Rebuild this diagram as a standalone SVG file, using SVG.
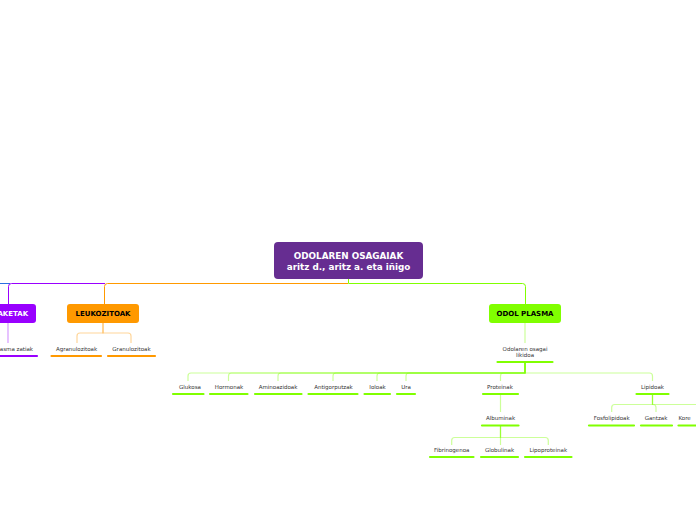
<svg xmlns="http://www.w3.org/2000/svg" width="696" height="520" viewBox="0 0 696 520">
<style>
.main{fill:none;stroke-width:1}
.sub{fill:none;stroke-width:1.2;stroke-opacity:0.4}
.g{stroke:#80FF00}
.o{stroke:#FF9900}
.p{stroke:#9900FF}
.ul{fill:none;stroke-width:2.2;stroke-linecap:round}
.nt{font-family:"DejaVu Sans",Verdana,sans-serif;font-weight:bold;font-size:7px;fill:#000;text-anchor:middle}
.rt{font-family:"DejaVu Sans",Verdana,sans-serif;font-weight:bold;font-size:8.8px;fill:#fff;text-anchor:middle}
.st{font-family:"DejaVu Sans",Verdana,sans-serif;font-size:5.5px;fill:#333;text-anchor:middle}
</style>
<rect width="696" height="520" fill="#fff"/>
<g id="connectors">
<path class="main" stroke="#2B6FE0" d="M10,283.5H-60"/>
<path class="main p" d="M105,283.5H11.5Q8.5,283.5 8.5,286.5V304"/>
<path class="main o" d="M348,283.5H107.5Q104.5,283.5 104.5,286.5V304"/>
<path class="main g" d="M348.5,279V283.5H522.5Q525.5,283.5 525.5,286.5V304"/>
<path class="sub p" d="M8,323V343"/>
<path class="sub o" d="M103,323V333H80Q77,333 77,336V343"/>
<path class="sub o" d="M103,323V333H128Q131,333 131,336V343"/>
<path class="sub g" d="M525,323V343"/>
<path class="sub g" d="M525,362V373H191Q188,373 188,376V381"/>
<path class="sub g" d="M525,362V373H231.5Q228.5,373 228.5,376V381"/>
<path class="sub g" d="M525,362V373H281Q278,373 278,376V381"/>
<path class="sub g" d="M525,362V373H336Q333,373 333,376V381"/>
<path class="sub g" d="M525,362V373H380Q377,373 377,376V381"/>
<path class="sub g" d="M525,362V373H409Q406,373 406,376V381"/>
<path class="sub g" d="M525,362V373H503.5Q500.5,373 500.5,376V381"/>
<path class="sub g" d="M525,362V373H649.5Q652.5,373 652.5,376V381"/>
<path class="sub g" d="M500.5,395V412"/>
<path class="sub g" d="M500.5,426V437.5H454.7Q451.7,437.5 451.7,440.5V445"/>
<path class="sub g" d="M500.5,426V445"/>
<path class="sub g" d="M500.5,426V437.5H545.3Q548.3,437.5 548.3,440.5V445"/>
<path class="sub g" d="M652.5,395V404.5H614.7Q611.7,404.5 611.7,407.5V412"/>
<path class="sub g" d="M652.5,395V404.5H653Q656,404.5 656,407.5V412"/>
<path class="sub g" d="M652.5,395V404.5H705Q708,404.5 708,407.5V412"/>
</g>
<g id="root">
<rect x="274" y="242" width="149" height="37" rx="4" fill="#662D91"/>
<text class="rt" x="348.5" y="259">ODOLAREN OSAGAIAK</text>
<text class="rt" x="348.5" y="269.5">aritz d., aritz a. eta iñigo</text>
</g>
<g id="plaketak">
<rect x="-20" y="304" width="56" height="19" rx="3" fill="#9900FF"/>
<text class="nt" x="8" y="316" style="fill:#fff">PLAKETAK</text>
</g>
<g id="zitoplasma">
<text class="st" x="8.5" y="350.5">Zitoplasma zatiak</text>
<path class="ul p" d="M-21,356H37"/>
</g>
<g id="leukozitoak">
<rect x="67" y="304" width="72" height="19" rx="3" fill="#FF9900"/>
<text class="nt" x="103" y="316">LEUKOZITOAK</text>
</g>
<g id="agranulozitoak">
<text class="st" x="76.5" y="350.5">Agranulozitoak</text>
<path class="ul o" d="M51.5,356H101"/>
</g>
<g id="granulozitoak">
<text class="st" x="131.5" y="350.5">Granulozitoak</text>
<path class="ul o" d="M108,356H155"/>
</g>
<g id="odolplasma">
<rect x="489" y="304" width="72" height="19" rx="3" fill="#80FF00"/>
<text class="nt" x="525" y="316">ODOL PLASMA</text>
</g>
<g id="likidoa">
<text class="st" x="525" y="351">Odolaren osagai</text>
<text class="st" x="525" y="357">likidoa</text>
<path class="ul g" d="M497.5,362H552.5"/>
</g>
<g id="glukosa"><text class="st" x="190" y="388.5">Glukosa</text><path class="ul g" d="M173,394H203.5"/></g>
<g id="hormonak"><text class="st" x="229" y="388.5">Hormonak</text><path class="ul g" d="M210,394H247.5"/></g>
<g id="aminoazidoak"><text class="st" x="278" y="388.5">Aminoazidoak</text><path class="ul g" d="M255,394H301.5"/></g>
<g id="antigorputzak"><text class="st" x="333.5" y="388.5">Antigorputzak</text><path class="ul g" d="M308.5,394H357.5"/></g>
<g id="ioloak"><text class="st" x="377.5" y="388.5">Ioloak</text><path class="ul g" d="M364.5,394H390"/></g>
<g id="ura"><text class="st" x="406" y="388.5">Ura</text><path class="ul g" d="M397,394H415"/></g>
<g id="proteinak"><text class="st" x="500" y="388.5">Proteinak</text><path class="ul g" d="M483,394H518"/></g>
<g id="lipidoak"><text class="st" x="652.5" y="388.5">Lipidoak</text><path class="ul g" d="M636.5,394H668.5"/></g>
<g id="albuminak"><text class="st" x="500.5" y="419.5">Albuminak</text><path class="ul g" d="M482,425.5H518.5"/></g>
<g id="fibrinogenoa"><text class="st" x="451.7" y="451.5">Fibrinogenoa</text><path class="ul g" d="M430,457H473.5"/></g>
<g id="globulinak"><text class="st" x="499.5" y="451.5">Globulinak</text><path class="ul g" d="M481,457H518"/></g>
<g id="lipoproteinak"><text class="st" x="548.3" y="451.5">Lipoproteinak</text><path class="ul g" d="M525,457H571.5"/></g>
<g id="fosfolipidoak"><text class="st" x="611.7" y="419.5">Fosfolipidoak</text><path class="ul g" d="M589,425.5H634"/></g>
<g id="gantzak"><text class="st" x="656" y="419.5">Gantzak</text><path class="ul g" d="M641,425.5H672"/></g>
<g id="kore"><text class="st" x="678.5" y="419.5" style="text-anchor:start">Kore</text><path class="ul g" d="M678.5,425.5H720"/></g>
</svg>
